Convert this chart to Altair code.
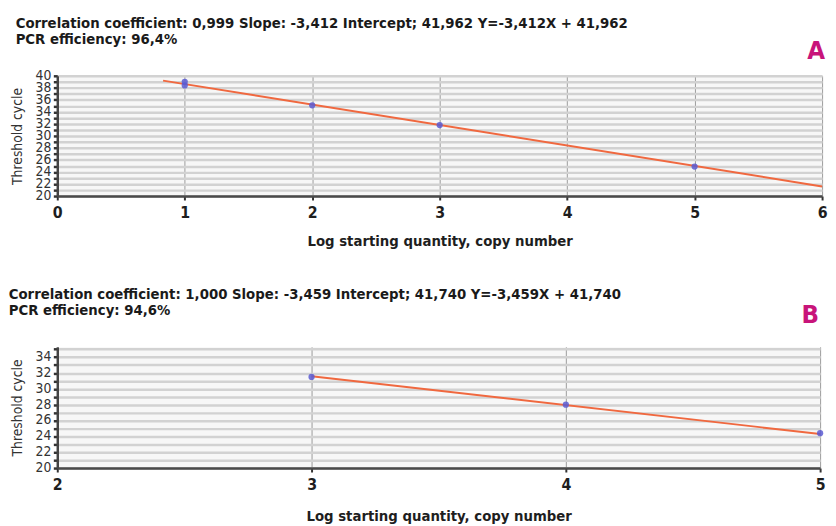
import altair as alt
import pandas as pd

COND = "DejaVu Sans Condensed, sans-serif"

# ---- data -------------------------------------------------------------
title_a = ["Correlation coefficient: 0,999 Slope: -3,412 Intercept; 41,962 Y=-3,412X + 41,962",
           "PCR efficiency: 96,4%"]
title_b = ["Correlation coefficient: 1,000 Slope: -3,459 Intercept; 41,740 Y=-3,459X + 41,740",
           "PCR efficiency: 94,6%"]

a_pts_x = [1, 1, 2, 3, 5]
a_pts_y = [39.0, 38.4, 35.1, 31.8, 24.9]
a_line_x = [0.83, 6.0]
a_line_y = [39.2, 21.6]
a_xticks = [0, 1, 2, 3, 4, 5, 6]
a_yticks = [20, 21, 22, 23, 24, 25, 26, 27, 28, 29, 30, 31, 32, 33, 34, 35, 36, 37, 38, 39, 40]
a_ylabels = [20, 22, 24, 26, 28, 30, 32, 34, 36, 38, 40]

b_pts_x = [3, 4, 5]
b_pts_y = [31.5, 28.0, 24.4]
b_line_x = [3, 5]
b_line_y = [31.6, 24.3]
b_xticks = [2, 3, 4, 5]
b_yticks = [20, 21, 22, 23, 24, 25, 26, 27, 28, 29, 30, 31, 32, 33, 34, 35]
b_ylabels = [20, 22, 24, 26, 28, 30, 32, 34]

letters = ["A", "B"]

x_title = "Log starting quantity, copy number"
y_title = "Threshold cycle"


def panel(title, px, py, lx, ly, xdom, ydom, xt, yt, ylab, letter, w, h, dx, toff,
          lx_pos, ly_pos, xtpad):
    pts = pd.DataFrame({"x": px, "y": py})
    ln = pd.DataFrame({"x": lx, "y": ly})
    labs = pd.DataFrame({"v": ylab})
    xs = alt.Scale(domain=xdom, nice=False, zero=False)
    ys = alt.Scale(domain=ydom, nice=False, zero=False)
    xax = alt.Axis(values=xt, title=x_title, format="d",
                   labelFont=COND, labelFontWeight="bold", labelFontSize=16, labelColor="#1e1e1e",
                   titleFont=COND, titleFontWeight="bold", titleFontSize=15, titleColor="#1e1e1e",
                   domainColor="#4a4a4a", domainWidth=2.5, tickColor="#333", tickSize=4, tickWidth=2,
                   gridColor="#9a9a9a", gridWidth=1, labelPadding=5, titlePadding=xtpad,
                   labelFlush=False)
    yax = alt.Axis(values=yt, title=y_title, labels=False,
                   titleFont=COND, titleFontWeight="normal", titleFontSize=14, titleColor="#333",
                   domainColor="#444", domainWidth=2.5, tickColor="#333", tickSize=4, tickWidth=2.5,
                   gridColor="#d2d2d2", gridWidth=2.5, titlePadding=28)
    line = alt.Chart(ln).mark_line(color="#f0683f", strokeWidth=2).encode(
        x=alt.X("x:Q", scale=xs, axis=xax),
        y=alt.Y("y:Q", scale=ys, axis=yax),
    )
    dots = alt.Chart(pts).mark_circle(color="#5a5ad2", size=40, opacity=0.85).encode(
        x=alt.X("x:Q", scale=xs, axis=xax),
        y=alt.Y("y:Q", scale=ys, axis=yax),
    )
    ylabels = alt.Chart(labs).mark_text(
        font=COND, fontSize=14, color="#333", align="right", baseline="middle", dx=-6
    ).encode(x=alt.value(0), y=alt.Y("v:Q", scale=ys, axis=yax), text="v:Q")
    lab = alt.Chart(pd.DataFrame({"t": [letter]})).mark_text(
        font=COND, fontWeight="bold", fontSize=26, color="#c8147a",
        align="center", baseline="middle"
    ).encode(x=alt.value(lx_pos), y=alt.value(ly_pos), text="t:N")
    return alt.layer(line, dots, ylabels, lab).properties(
        width=w, height=h,
        title=alt.TitleParams(text=title, anchor="start", frame="bounds", font=COND,
                              fontSize=15, fontWeight="bold", color="#1a1a1a",
                              lineHeight=17, offset=toff, dx=dx),
    )


chart_a = panel(title_a, a_pts_x, a_pts_y, a_line_x, a_line_y, [0, 6], [20, 40],
                a_xticks, a_yticks, a_ylabels, letters[0], 776, 122, 5, -9, 770, -25, 13)
chart_b = panel(title_b, b_pts_x, b_pts_y, b_line_x, b_line_y, [2, 5], [20, 35.3],
                b_xticks, b_yticks, b_ylabels, letters[1], 774, 123, -2, -16, 764, -32, 16)

chart = alt.vconcat(chart_a, chart_b, spacing=37).properties(
    padding={"left": 0, "top": 3, "right": 0, "bottom": 0}
).configure_view(fill="#f7f7f7", stroke="transparent")

chart.save("out.html", embed_options={"renderer": "svg", "actions": False})
